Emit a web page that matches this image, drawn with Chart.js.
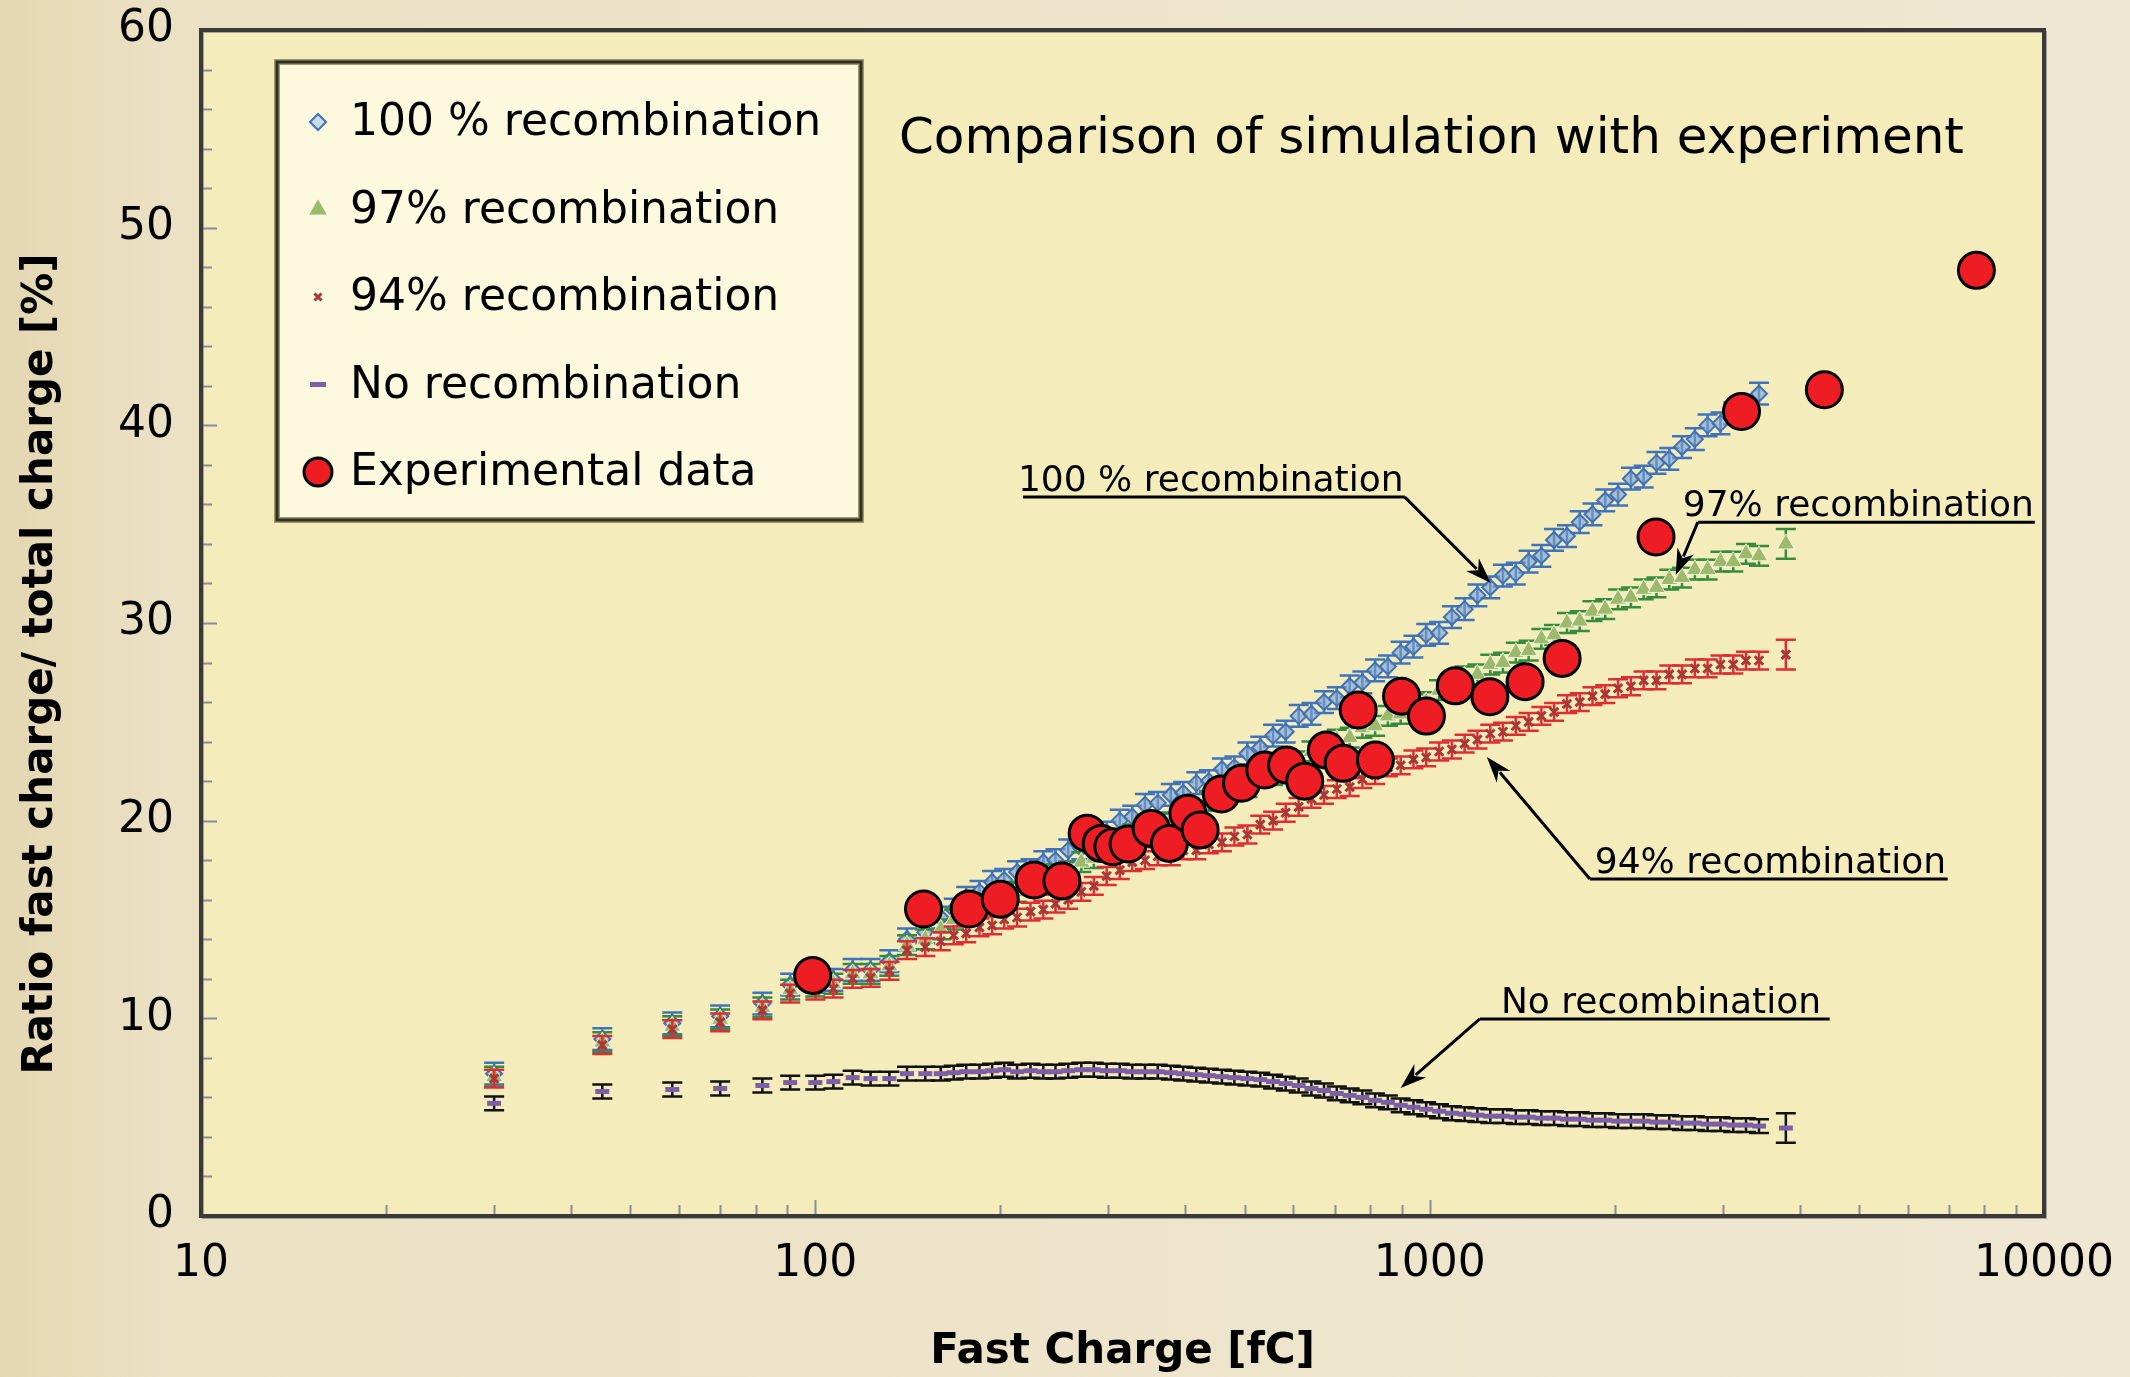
<!DOCTYPE html>
<html><head><meta charset="utf-8">
<script src="https://cdn.jsdelivr.net/npm/chart.js@4.4.1/dist/chart.umd.min.js"></script>
<style>html,body{margin:0;padding:0;background:#ece3c9;overflow:hidden}canvas{display:block}</style>
</head><body>
<canvas id="c" width="2130" height="1377" style="width:2130px;height:1377px"></canvas>
<script>
const FONT = "'DejaVu Sans', sans-serif";

// Fast charge [fC] of the simulated points (shared by all simulated series)
const simX = [30, 45, 58.5, 70, 82, 91, 100, 107, 115, 123, 132, 141, 151,
  160, 168, 176, 185, 194, 203, 213, 224, 235, 246,
  258, 271, 284, 298, 313, 328, 344, 361, 379, 397,
  417, 437, 459, 481, 505, 530, 556, 583, 612, 642,
  673, 706, 741, 777, 815, 855, 897, 941, 987, 1036,
  1087, 1140, 1196, 1255, 1316, 1381, 1449, 1520, 1594, 1673,
  1755, 1841, 1931, 2026, 2126, 2230, 2340, 2455, 2575, 2702,
  2834, 2974, 3120, 3273, 3436, 3800];

const pct100 = [7.2, 8.95, 9.75, 10.1, 10.75, 11.7, 11.85, 11.95, 12.45, 12.45, 12.9, 14.0, 14.35,
  15.1, 15.5, 16.1, 16.4, 16.9, 17.0, 17.4, 17.5, 17.9, 18.0,
  18.5, 18.6, 19.2, 19.4, 20.0, 20.2, 20.8, 20.9, 21.3, 21.4,
  21.9, 22.0, 22.6, 22.7, 23.4, 23.7, 24.3, 24.5, 25.3, 25.4,
  26.0, 26.2, 26.8, 27.0, 27.6, 27.8, 28.5, 28.8, 29.4, 29.5,
  30.3, 30.7, 31.4, 31.8, 32.4, 32.5, 33.1, 33.4, 34.2, 34.4,
  35.1, 35.5, 36.2, 36.5, 37.3, 37.4, 38.1, 38.3, 38.9, 39.3,
  40.0, 40.1, 40.6, 40.8, 41.6, null];

const pct97 = [7.05, 8.8, 9.6, 9.95, 10.55, 11.45, 11.6, 11.75, 12.25, 12.25, 12.65, 13.7, 14.0,
  14.5, 15.0, 15.2, 15.8, 15.9, 16.3, 16.4, 16.8, 16.8, 17.3,
  17.4, 17.9, 18.1, 18.6, 18.8, 19.3, 19.4, 19.9, 19.9, 20.4,
  20.5, 21.0, 21.1, 21.6, 21.7, 22.2, 22.3, 22.8, 23.0, 23.5,
  23.6, 24.1, 24.2, 24.7, 24.8, 25.3, 25.4, 25.9, 26.0, 26.6,
  26.7, 27.3, 27.4, 27.9, 28.0, 28.5, 28.6, 29.2, 29.4, 30.0,
  30.1, 30.6, 30.7, 31.2, 31.3, 31.7, 31.8, 32.2, 32.3, 32.7,
  32.7, 33.1, 33.1, 33.5, 33.4, 34.0];

const pct94 = [6.95, 8.65, 9.45, 9.8, 10.4, 11.25, 11.4, 11.5, 12.0, 12.05, 12.4, 13.45, 13.6,
  13.9, 14.2, 14.3, 14.6, 14.7, 15.0, 15.1, 15.4, 15.5, 15.8,
  16.0, 16.4, 16.7, 17.2, 17.5, 17.9, 18.0, 18.2, 18.2, 18.5,
  18.5, 18.8, 18.9, 19.2, 19.3, 19.8, 20.0, 20.4, 20.7, 21.1,
  21.3, 21.6, 21.7, 22.1, 22.3, 22.7, 22.8, 23.1, 23.2, 23.5,
  23.6, 23.9, 24.1, 24.4, 24.5, 24.8, 25.0, 25.3, 25.5, 25.9,
  26.0, 26.3, 26.4, 26.7, 26.8, 27.1, 27.1, 27.4, 27.4, 27.7,
  27.7, 27.9, 27.9, 28.1, 28.1, 28.4];

const pctNone = [5.7, 6.3, 6.4, 6.45, 6.6, 6.75, 6.75, 6.8, 7.0, 6.95, 6.95, 7.2, 7.2,
  7.2, 7.25, 7.3, 7.3, 7.35, 7.4, 7.3, 7.35, 7.3, 7.3,
  7.35, 7.4, 7.4, 7.35, 7.35, 7.3, 7.3, 7.3, 7.25, 7.2,
  7.15, 7.1, 7.05, 7.0, 6.95, 6.9, 6.8, 6.7, 6.6, 6.45,
  6.35, 6.2, 6.1, 6.0, 5.85, 5.75, 5.6, 5.5, 5.4, 5.3,
  5.2, 5.15, 5.1, 5.05, 5.05, 5.0, 5.0, 4.95, 4.95, 4.9,
  4.9, 4.85, 4.85, 4.8, 4.8, 4.8, 4.75, 4.75, 4.7, 4.7,
  4.65, 4.65, 4.6, 4.6, 4.55, 4.45];

// error bar half-heights [%]
const err100 = 0.55, err97 = 0.5, err94 = 0.45, errNone = 0.35;
const errLastPoint = 0.75;   // isolated point at the end of each simulated series

// experimental data
const expX = [99, 150, 178, 200, 227, 252, 277, 292, 305, 323, 352, 377, 404, 423,
  458, 494, 539, 585, 626, 679, 723, 765, 816, 900, 988, 1101, 1253, 1430, 1643,
  2336, 3218, 4390, 7762];
const expY = [12.17, 15.53, 15.53, 16.03, 17.0, 16.95, 19.36, 18.85, 18.68, 18.82, 19.61, 18.85, 20.37, 19.53,
  21.35, 21.89, 22.56, 22.81, 22.0, 23.57, 22.9, 25.6, 23.07, 26.3, 25.29, 26.82, 26.27, 27.03, 28.21,
  34.35, 40.7, 41.8, 47.84];

const seriesLabels = ['100 % recombination', '97% recombination', '94% recombination', 'No recombination', 'Experimental data'];
const xTickValues = [10, 100, 1000, 10000];
const yMin = 0, yMax = 60, yStep = 10;
const xMin = 10, xMax = 10000;
const xAxisTitle = 'Fast Charge [fC]';
const yAxisTitle = 'Ratio fast charge/ total charge [%]';

// annotations (data coordinates)
const annLabels = ['100 % recombination', '97% recombination', '94% recombination', 'No recombination'];
const annTextX = [213.7, 2582, 1857, 1306];
const annLineY = [36.37, 35.1, 17.05, 9.97];
const annLineX1 = [217.8, 2732, 1823, 1207];
const annLineX2 = [911, 9660, 6970, 4478];
const annElbowX = [911, 2732, 1823, 1207];
const annTipX = [1258, 2515, 1239, 897];
const annTipY = [32.02, 32.43, 23.22, 6.48];
const chartTitle = 'Comparison of simulation with experiment';
const chartTitleX = 136.8, chartTitleY = 53.78;

function zip(xs, ys, e) {
  return xs.map((x, i) => ({ x: x, y: ys[i], e: (i === xs.length - 1 ? errLastPoint : e) }));
}

const errorBars = {
  id: 'errorBars',
  beforeDatasetDraw(chart, args) {
    const ds = chart.data.datasets[args.index];
    if (!ds.errColor) return;
    const { ctx, scales: { x, y } } = chart;
    ctx.save();
    ctx.strokeStyle = ds.errColor;
    ctx.lineWidth = 2.5;
    const cap = 10;
    ds.data.forEach(p => {
      if (p.y === null || p.y === undefined) return;
      const px = x.getPixelForValue(p.x);
      const y1 = y.getPixelForValue(p.y - p.e), y2 = y.getPixelForValue(p.y + p.e);
      ctx.beginPath();
      ctx.moveTo(px, y1); ctx.lineTo(px, y2);
      ctx.moveTo(px - cap, y1); ctx.lineTo(px + cap, y1);
      ctx.moveTo(px - cap, y2); ctx.lineTo(px + cap, y2);
      ctx.stroke();
    });
    ctx.restore();
  }
};

const background = {
  id: 'background',
  beforeDraw(chart) {
    const { ctx, chartArea: a, width, height } = chart;
    ctx.save();
    const g = ctx.createLinearGradient(0, 0, width, 0);
    g.addColorStop(0, '#e4d7b2');
    g.addColorStop(0.08, '#ebe1c5');
    g.addColorStop(1, '#efe7d1');
    ctx.fillStyle = g;
    ctx.fillRect(0, 0, width, height);
    ctx.fillStyle = '#f4ecbb';
    ctx.fillRect(a.left, a.top, a.right - a.left, a.bottom - a.top);
    ctx.restore();
  }
};

function drawMarker(ctx, ds, x, y, r) {
  ctx.save();
  ctx.fillStyle = ds.legendFill || ds.backgroundColor;
  ctx.strokeStyle = ds.borderColor;
  ctx.lineWidth = ds.legendBorderWidth || ds.pointBorderWidth || 1;
  if (Chart.helpers && Chart.helpers.drawPoint) {
    Chart.helpers.drawPoint(ctx, { pointStyle: ds.pointStyle, radius: r, borderWidth: ctx.lineWidth, rotation: 0 }, x, y);
  } else {
    ctx.beginPath(); ctx.arc(x, y, r, 0, Math.PI * 2); ctx.fill(); ctx.stroke();
  }
  ctx.restore();
}

function arrowHead(ctx, fx, fy, tx, ty) {
  const ang = Math.atan2(ty - fy, tx - fx);
  const L = 26, W = 9, N = 18;
  ctx.beginPath();
  ctx.moveTo(tx, ty);
  ctx.lineTo(tx - L * Math.cos(ang) + W * Math.sin(ang), ty - L * Math.sin(ang) - W * Math.cos(ang));
  ctx.lineTo(tx - N * Math.cos(ang), ty - N * Math.sin(ang));
  ctx.lineTo(tx - L * Math.cos(ang) - W * Math.sin(ang), ty - L * Math.sin(ang) + W * Math.cos(ang));
  ctx.closePath();
  ctx.fill();
}

const overlay = {
  id: 'overlay',
  afterDraw(chart) {
    const { ctx, chartArea: a, scales: { x, y } } = chart;
    ctx.save();
    // inside ticks
    ctx.strokeStyle = '#8a8a98';
    ctx.lineWidth = 2;
    for (let v = yMin + 2; v < yMax; v += 2) {
      const py = Math.round(y.getPixelForValue(v)) + 0.5;
      const len = (v % yStep === 0) ? 16 : 11;
      ctx.beginPath(); ctx.moveTo(a.left, py); ctx.lineTo(a.left + len, py); ctx.stroke();
    }
    for (let d = xMin; d < xMax; d *= 10) {
      for (let k = 1; k <= 9; k++) {
        const v = d * k;
        if (v <= xMin) continue;
        const px = Math.round(x.getPixelForValue(v)) + 0.5;
        const len = (k === 1) ? 16 : 11;
        ctx.beginPath(); ctx.moveTo(px, a.bottom); ctx.lineTo(px, a.bottom - len); ctx.stroke();
      }
    }
    // plot frame
    ctx.strokeStyle = 'rgba(120,120,110,0.6)';
    ctx.lineWidth = 2;
    ctx.strokeRect(a.left + 2, a.top + 2, a.right - a.left, a.bottom - a.top);
    ctx.strokeStyle = '#3a3a3a';
    ctx.lineWidth = 4;
    ctx.strokeRect(a.left, a.top, a.right - a.left, a.bottom - a.top);

    // y-axis title (centred slightly below the middle of the plot, as in the original)
    ctx.save();
    ctx.translate(a.left - 160, (a.top + a.bottom) / 2 + 41);
    ctx.rotate(-Math.PI / 2);
    ctx.font = 'bold 42px ' + FONT;
    ctx.fillStyle = '#000';
    ctx.textAlign = 'center';
    ctx.textBaseline = 'middle';
    ctx.fillText(yAxisTitle, 0, 0);
    ctx.restore();

    // title
    ctx.fillStyle = '#000';
    ctx.font = '50px ' + FONT;
    ctx.textAlign = 'left';
    ctx.textBaseline = 'alphabetic';
    ctx.fillText(chartTitle, x.getPixelForValue(chartTitleX), y.getPixelForValue(chartTitleY));

    // annotations
    ctx.font = '36px ' + FONT;
    ctx.strokeStyle = '#000';
    ctx.lineWidth = 3;
    for (let i = 0; i < annLabels.length; i++) {
      const ly = y.getPixelForValue(annLineY[i]);
      ctx.fillText(annLabels[i], x.getPixelForValue(annTextX[i]), ly - 6);
      const ex = x.getPixelForValue(annElbowX[i]);
      const tx = x.getPixelForValue(annTipX[i]), ty = y.getPixelForValue(annTipY[i]);
      ctx.beginPath();
      ctx.moveTo(x.getPixelForValue(annLineX1[i]), ly);
      ctx.lineTo(x.getPixelForValue(annLineX2[i]), ly);
      ctx.moveTo(ex, ly);
      const ang = Math.atan2(ty - ly, tx - ex);
      ctx.lineTo(tx - 20 * Math.cos(ang), ty - 20 * Math.sin(ang));
      ctx.stroke();
      ctx.fillStyle = '#000';
      arrowHead(ctx, ex, ly, tx, ty);
    }

    // legend box
    const bx = a.left + 76, by = a.top + 32, bw = 584, bh = 458;
    ctx.fillStyle = '#fcf9de';
    ctx.fillRect(bx, by, bw, bh);
    ctx.strokeStyle = '#9c9a6c';
    ctx.lineWidth = 6;
    ctx.strokeRect(bx, by, bw, bh);
    ctx.strokeStyle = '#2f2f24';
    ctx.lineWidth = 3;
    ctx.strokeRect(bx, by, bw, bh);
    ctx.font = '44px ' + FONT;
    ctx.textBaseline = 'middle';
    ctx.fillStyle = '#000';
    chart.data.datasets.forEach((ds, i) => {
      const ry = by + 60 + i * 87.5;
      drawMarker(ctx, ds, bx + 41, ry, ds.legendRadius);
      ctx.fillStyle = '#000';
      ctx.fillText(ds.label, bx + 73, ry + 2);
    });
    ctx.restore();
  }
};

const datasets = [
  { label: seriesLabels[0], data: zip(simX, pct100, err100), pointStyle: 'rectRot', pointRadius: 8,
    backgroundColor: 'rgba(120,160,215,0.6)', borderColor: '#3f72b5', pointBorderWidth: 2,
    errColor: '#3f74bd', legendRadius: 8, legendBorderWidth: 2, legendFill: 'rgba(190,210,235,0.8)', order: 5 },
  { label: seriesLabels[1], data: zip(simX, pct97, err97), pointStyle: 'triangle', pointRadius: 10,
    backgroundColor: '#9dba6c', borderColor: 'rgba(255,255,240,0.8)', pointBorderWidth: 1,
    errColor: '#348c3c', legendRadius: 11, legendBorderWidth: 1, order: 4 },
  { label: seriesLabels[2], data: zip(simX, pct94, err94), pointStyle: 'crossRot', pointRadius: 6,
    backgroundColor: '#a63838', borderColor: '#a63838', pointBorderWidth: 3,
    errColor: '#e02c33', legendRadius: 5, legendBorderWidth: 3, order: 3 },
  { label: seriesLabels[3], data: zip(simX, pctNone, errNone), pointStyle: 'line', pointRadius: 7,
    backgroundColor: '#7b5fa8', borderColor: '#7b5fa8', pointBorderWidth: 5,
    errColor: '#111111', legendRadius: 8, legendBorderWidth: 5, order: 2 },
  { label: seriesLabels[4], data: expX.map((x, i) => ({ x: x, y: expY[i] })), pointStyle: 'circle', pointRadius: 18,
    backgroundColor: '#ee1d24', borderColor: '#000000', pointBorderWidth: 3,
    legendRadius: 14, legendBorderWidth: 3, order: 1 }
];

function pinPadding(s) {
  s.paddingTop = 0; s.paddingBottom = 0; s.paddingLeft = 0; s.paddingRight = 0;
}

new Chart(document.getElementById('c'), {
  type: 'scatter',
  data: { datasets: datasets },
  options: {
    responsive: false,
    animation: false,
    devicePixelRatio: 1,
    layout: { padding: { top: 30, right: 86, left: 0, bottom: 0 } },
    plugins: { legend: { display: false }, tooltip: { enabled: false } },
    elements: { point: { hoverRadius: 0 } },
    scales: {
      x: {
        type: 'logarithmic', min: xMin, max: xMax,
        afterBuildTicks: s => { s.ticks = xTickValues.map(v => ({ value: v })); },
        afterFit: s => { s.height = 161; pinPadding(s); },
        ticks: { font: { family: FONT, size: 44 }, color: '#000', padding: 22, maxRotation: 0, autoSkip: false,
          callback: v => String(v) },
        grid: { display: false, drawTicks: false },
        border: { display: false },
        title: { display: true, text: xAxisTitle, color: '#000',
          font: { family: FONT, size: 42, weight: 'bold' }, padding: { top: 0, bottom: 0 } }
      },
      y: {
        min: yMin, max: yMax,
        afterFit: s => { s.width = 201; pinPadding(s); },
        ticks: { stepSize: yStep, font: { family: FONT, size: 44 }, color: '#000', padding: 27 },
        grid: { display: false, drawTicks: false },
        border: { display: false },
        title: { display: false, text: yAxisTitle }
      }
    }
  },
  plugins: [background, errorBars, overlay]
});
</script>
</body></html>
